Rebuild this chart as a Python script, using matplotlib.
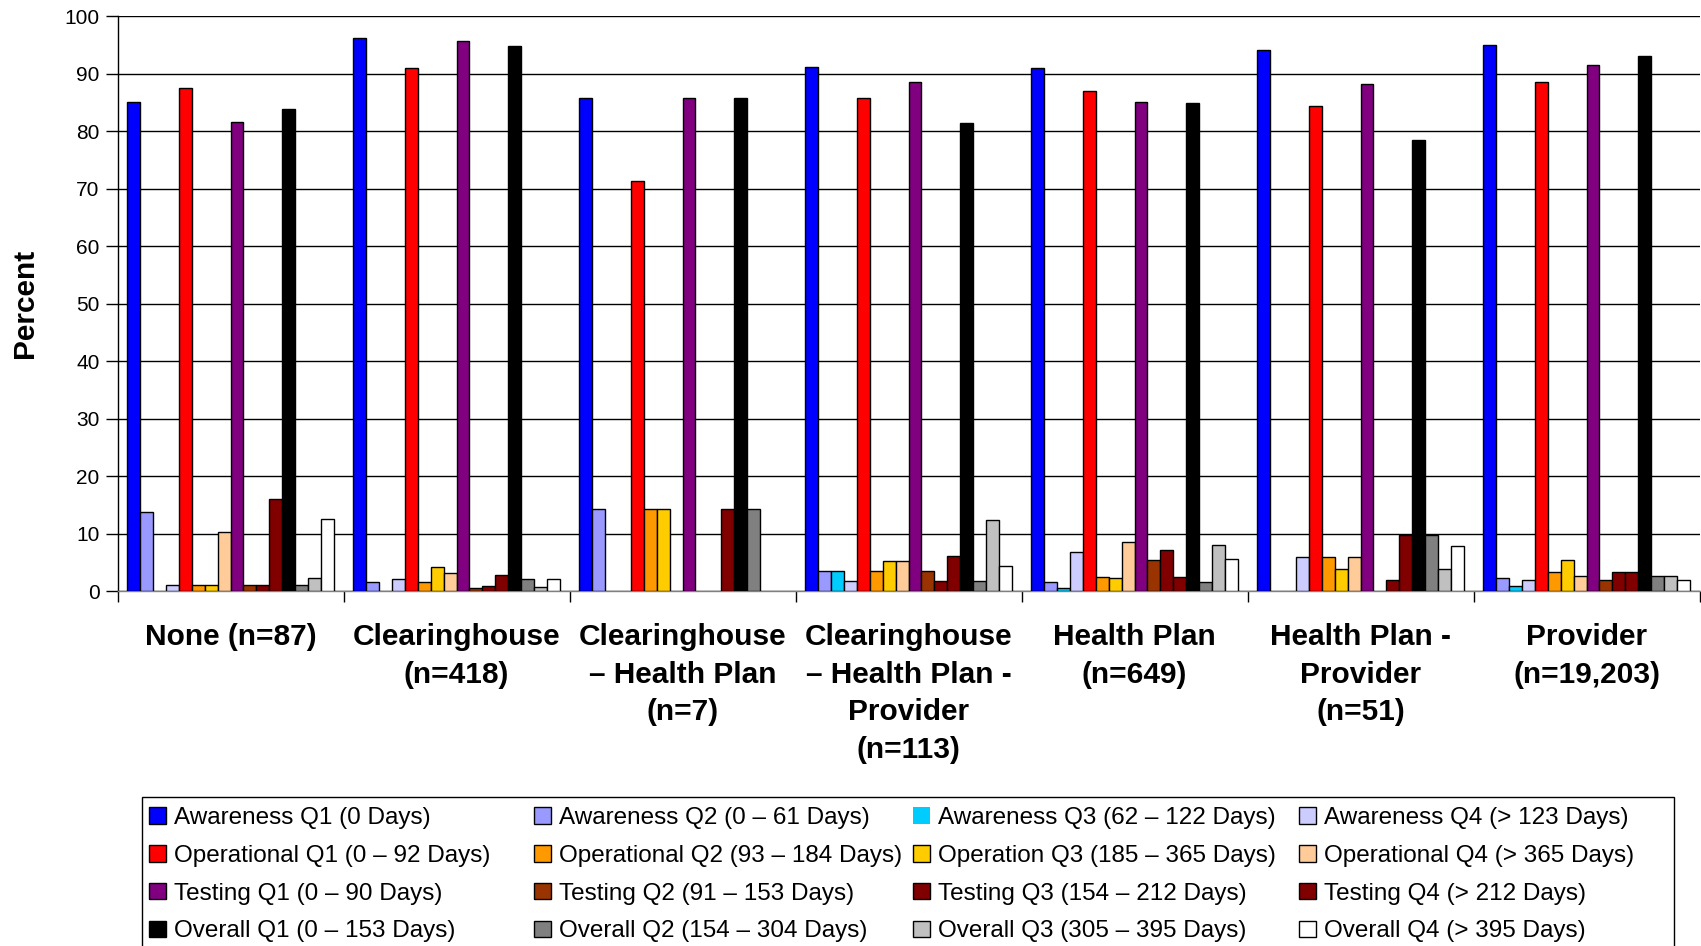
import numpy as np
import matplotlib.pyplot as plt
from matplotlib.patches import Rectangle

plt.rcParams['font.family'] = ['Liberation Sans', 'DejaVu Sans']

groups = [
    "None (n=87)",
    "Clearinghouse\n(n=418)",
    "Clearinghouse\n\u2013 Health Plan\n(n=7)",
    "Clearinghouse\n\u2013 Health Plan -\nProvider\n(n=113)",
    "Health Plan\n(n=649)",
    "Health Plan -\nProvider\n(n=51)",
    "Provider\n(n=19,203)",
]

awareness_q1 = [85.1, 96.2, 85.7, 91.2, 90.9, 94.1, 94.9]
awareness_q2 = [13.8, 1.7, 14.3, 3.5, 1.7, 0, 2.3]
awareness_q3 = [0, 0, 0, 3.5, 0.6, 0, 1.0]
awareness_q4 = [1.1, 2.2, 0, 1.8, 6.8, 5.9, 2.0]
operational_q1 = [87.4, 91.0, 71.4, 85.8, 86.9, 84.3, 88.6]
operational_q2 = [1.1, 1.7, 14.3, 3.5, 2.5, 5.9, 3.3]
operational_q3 = [1.1, 4.3, 14.3, 5.3, 2.3, 3.9, 5.5]
operational_q4 = [10.3, 3.1, 0, 5.3, 8.5, 5.9, 2.7]
testing_q1 = [81.6, 95.7, 85.7, 88.5, 85.0, 88.2, 91.4]
testing_q2 = [1.1, 0.6, 0, 3.5, 5.4, 0, 2.0]
testing_q3 = [1.1, 0.9, 0, 1.8, 7.1, 2.0, 3.3]
testing_q4 = [16.1, 2.9, 14.3, 6.2, 2.5, 9.8, 3.3]
overall_q1 = [83.9, 94.7, 85.7, 81.4, 84.8, 78.4, 93.0]
overall_q2 = [1.1, 2.2, 14.3, 1.8, 1.7, 9.8, 2.6]
overall_q3 = [2.3, 0.7, 0, 12.4, 8.0, 3.9, 2.6]
overall_q4 = [12.6, 2.1, 0, 4.4, 5.7, 7.8, 1.9]

series = [
    ("Awareness Q1 (0 Days)", awareness_q1, "#0000FF"),
    ("Awareness Q2 (0 \u2013 61 Days)", awareness_q2, "#9999FF"),
    ("Awareness Q3 (62 \u2013 122 Days)", awareness_q3, "#00CCFF"),
    ("Awareness Q4 (> 123 Days)", awareness_q4, "#CCCCFF"),
    ("Operational Q1 (0 \u2013 92 Days)", operational_q1, "#FF0000"),
    ("Operational Q2 (93 \u2013 184 Days)", operational_q2, "#FF9900"),
    ("Operation Q3 (185 \u2013 365 Days)", operational_q3, "#FFCC00"),
    ("Operational Q4 (> 365 Days)", operational_q4, "#FFCC99"),
    ("Testing Q1 (0 \u2013 90 Days)", testing_q1, "#800080"),
    ("Testing Q2 (91 \u2013 153 Days)", testing_q2, "#993300"),
    ("Testing Q3 (154 \u2013 212 Days)", testing_q3, "#800000"),
    ("Testing Q4 (> 212 Days)", testing_q4, "#800000"),
    ("Overall Q1 (0 \u2013 153 Days)", overall_q1, "#000000"),
    ("Overall Q2 (154 \u2013 304 Days)", overall_q2, "#808080"),
    ("Overall Q3 (305 \u2013 395 Days)", overall_q3, "#C0C0C0"),
    ("Overall Q4 (> 395 Days)", overall_q4, "#FFFFFF"),
]

W, H = 1701, 946
fig = plt.figure(figsize=(W / 100, H / 100), dpi=100)
ax = fig.add_axes([117.5 / W, 1 - 591.3 / H, 1582 / W, 575.3 / H])

x = np.arange(len(groups))
bw = 0.0575
start = -bw * len(series) / 2
handles = []
for j, (label, vals, color) in enumerate(series):
    # zero-height bars are not drawn in the original
    lws = [1.0 if v > 0 else 0 for v in vals]
    b = ax.bar(x + start + bw * (j + 0.5), vals, bw, color=color,
               edgecolor="black", linewidth=lws, label=label, zorder=3)
    handles.append(b)

ax.set_xlim(-0.5, len(groups) - 0.5)
ax.set_ylim(0, 100)
ax.set_yticks(range(0, 101, 10))
ax.yaxis.grid(True, color="black", linewidth=1.0)
ax.set_axisbelow(True)
for s in ["top", "right"]:
    ax.spines[s].set_visible(False)
ax.spines["left"].set_linewidth(1.0)
ax.spines["bottom"].set_linewidth(1.0)
ax.spines["bottom"].set_color("#808080")

ax.set_xticks(np.arange(-0.5, len(groups), 1.0))
ax.set_xticklabels([])
ax.tick_params(axis="x", which="major", direction="out", length=8, width=1)
ax.set_xticks(x, groups, minor=True)
ax.tick_params(axis="x", which="minor", length=0, pad=23, labelsize=21.5)
for t in ax.get_xticklabels(minor=True):
    t.set_fontweight("bold")
    t.set_linespacing(1.43)
    t.set_verticalalignment("top")
ax.tick_params(axis="y", direction="out", length=9, width=1, pad=4, labelsize=15)

ax.set_ylabel("Percent", fontsize=21.5, fontweight="bold", labelpad=18)

# legend: four columns of four entries, Excel style
col_x = [149, 534, 913, 1299]
for c in range(4):
    idx = [r * 4 + c for r in range(4)]
    fig.legend([handles[i] for i in idx], [series[i][0] for i in idx],
               loc="upper left", bbox_to_anchor=(col_x[c] / W, 1 - 807 / H),
               frameon=False, fontsize=17.5, handlelength=0.68, handleheight=0.68,
               handletextpad=0.35, labelspacing=0.65, borderpad=0,
               borderaxespad=0)
fig.add_artist(Rectangle((142 / W, -0.05), 1532 / W, 0.05 + 1 - 797 / H,
                         transform=fig.transFigure, fill=False,
                         edgecolor="black", linewidth=1.0))

fig.savefig("out.png", dpi=100)
